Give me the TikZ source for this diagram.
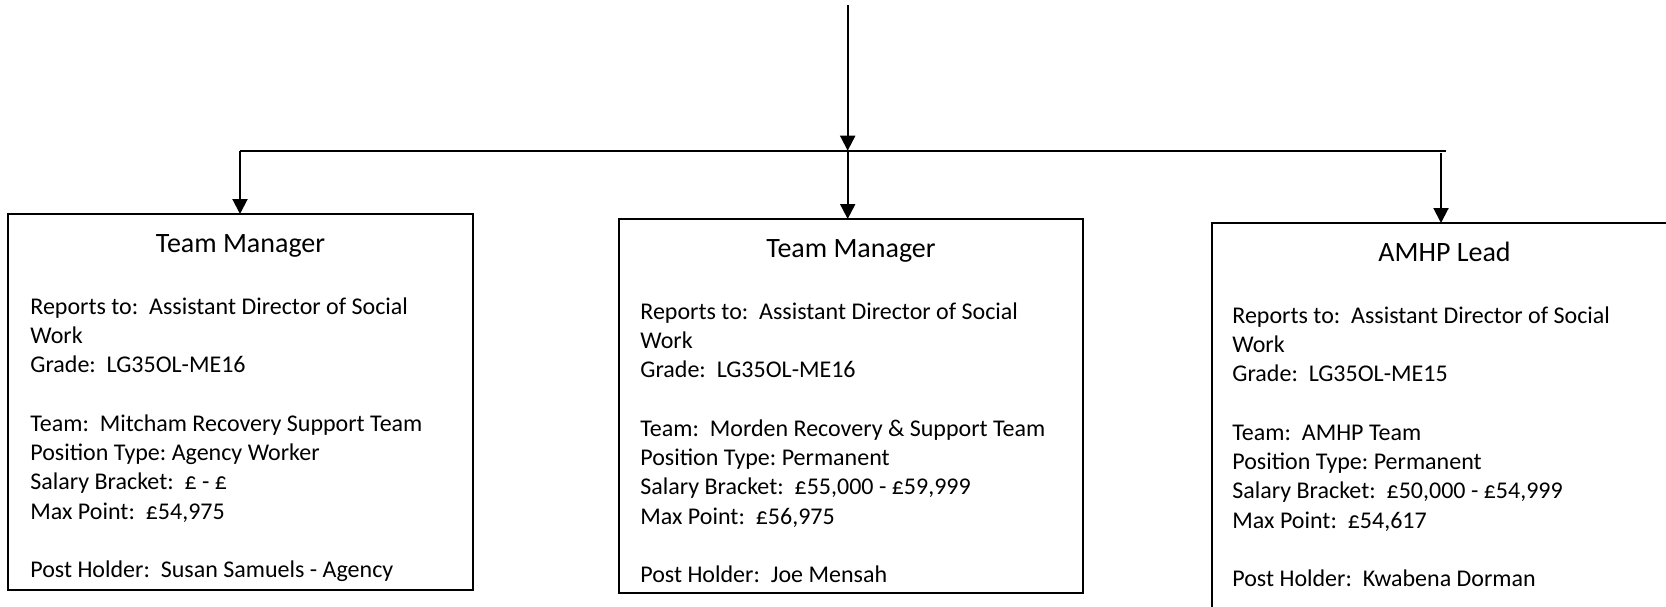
\documentclass[tikz,border=0pt]{standalone}
\usepackage{fontspec}
\setmainfont{Carlito}
\usetikzlibrary{arrows.meta,calc}
\tikzset{
  orgbox/.style={draw, line width=1pt, fill=white, anchor=north west, inner sep=0pt, outer sep=0pt},
  boxtitle/.style={anchor=base, inner sep=0pt, font=\fontsize{14pt}{17pt}\selectfont},
  boxbody/.style={anchor=base west, inner sep=0pt},
  conn/.style={line width=1pt},
  arr/.style={conn, -{Triangle[length=7.5pt,width=7.5pt]}}
}
\newcommand{\bodytext}[1]{\parbox[t]{215pt}{\fontsize{12pt}{14.65pt}\selectfont\frenchspacing\raggedright #1}}
\begin{document}
\begin{tikzpicture}[x=0.5pt,y=-0.5pt]
\useasboundingbox (0,0) rectangle (1666,606);
\clip (0,0) rectangle (1666,606);
% boxes
\node[orgbox, minimum width=232.5pt, minimum height=188pt] (b1) at (8,214) {};
\node[orgbox, minimum width=232pt, minimum height=187pt] (b2) at (619,219) {};
\node[orgbox, minimum width=232.5pt, minimum height=200pt] (b3) at (1212,223) {};
% titles
\node[boxtitle] (t1) at ($(b1.north)+(0,38)$) {Team Manager};
\node[boxtitle] (t2) at ($(b2.north)+(0,38)$) {Team Manager};
\node[boxtitle] (t3) at ($(b3.north)+(0,38)$) {AMHP Lead};
% bodies
\node[boxbody] (x1) at ($(b1.north west)+(22,100)$) {\bodytext{Reports to:~ Assistant Director of Social\\Work\\Grade:~ LG35OL-ME16\\[14.65pt]Team:~ Mitcham Recovery Support Team\\Position Type: Agency Worker\\Salary Bracket:~ £ - £\\Max Point:~ £54,975\\[14.65pt]Post Holder:~ Susan Samuels - Agency}};
\node[boxbody] (x2) at ($(b2.north west)+(21,100)$) {\bodytext{Reports to:~ Assistant Director of Social\\Work\\Grade:~ LG35OL-ME16\\[14.65pt]Team:~ Morden Recovery \& Support Team\\Position Type: Permanent\\Salary Bracket:~ £55,000 - £59,999\\Max Point:~ £56,975\\[14.65pt]Post Holder:~ Joe Mensah}};
\node[boxbody] (x3) at ($(b3.north west)+(20,100)$) {\bodytext{Reports to:~ Assistant Director of Social\\Work\\Grade:~ LG35OL-ME15\\[14.65pt]Team:~ AMHP Team\\Position Type: Permanent\\Salary Bracket:~ £50,000 - £54,999\\Max Point:~ £54,617\\[14.65pt]Post Holder:~ Kwabena Dorman}};
% connectors
\coordinate (top) at (847.7,5);
\coordinate (j) at (847.7,150.7);
\coordinate (hl) at (240,150.7);
\coordinate (hr) at (1445.7,150.7);
\coordinate (r) at (1441,153);
\draw[arr] (top) -- (j);
\draw[conn] (hl) -- (hr);
\draw[arr] (hl) -- (hl |- b1.north);
\draw[arr] (j) -- (j |- b2.north);
\draw[arr] (r) -- (r |- b3.north);
\end{tikzpicture}
\end{document}
